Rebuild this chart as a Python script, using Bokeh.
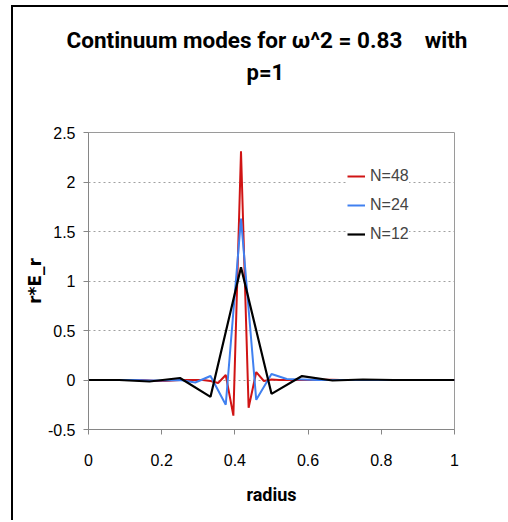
from bokeh.plotting import figure
from bokeh.models import FixedTicker, Title, Legend, LegendItem, Range1d
from bokeh.embed import file_html
from bokeh.resources import INLINE

# ---- data ----
r48 = [i / 48 for i in range(49)]
e48 = [0, 0, 0, 0, 0, 0, 0, 0, -0.005, -0.01, -0.01, -0.005, 0, 0, 0, 0,
       -0.01, -0.03, 0.05, -0.36, 2.31, -0.28, 0.08, -0.01, 0.005,
       0, 0, 0, 0, 0, 0.003, 0.003, 0.003, 0, 0, 0, 0, 0, 0, 0, 0, 0, 0, 0, 0, 0, 0, 0, 0]
r24 = [i / 24 for i in range(25)]
e24 = [0, 0, 0, 0, -0.005, -0.005, 0, -0.025, 0.04, -0.25, 1.63, -0.20, 0.06, 0.01,
       0.005, 0, 0, 0, 0, 0, 0, 0, 0, 0, 0]
r12 = [i / 12 for i in range(13)]
e12 = [0, 0, -0.015, 0.02, -0.17, 1.14, -0.14, 0.04, -0.005, 0.005, 0, 0, 0]

series_names = ["N=48", "N=24", "N=12"]
x_ticks = [0, 0.2, 0.4, 0.6, 0.8, 1]
x_tick_labels = ["0", "0.2", "0.4", "0.6", "0.8", "1"]
y_ticks = [-0.5, 0, 0.5, 1, 1.5, 2, 2.5]
y_tick_labels = ["-0.5", "0", "0.5", "1", "1.5", "2", "2.5"]
title_line1 = "Continuum modes for \u03c9^2 = 0.83\u00a0\u00a0\u00a0\u00a0with"
title_line2 = "p=1"

TICK_FONT = "Liberation Sans"
TITLE_FONT = "Roboto"

p = figure(width=508, height=520, output_backend="svg", toolbar_location=None,
           x_range=Range1d(0, 1), y_range=Range1d(-0.5, 2.5),
           min_border_left=88, min_border_right=54, min_border_top=132, min_border_bottom=91,
           title=None)
p.border_fill_color = None
p.background_fill_color = "white"
p.outline_line_color = "#9a9a9a"
p.outline_line_width = 1
p.styles = {"box-shadow": "inset 11px 0 0 0 white, inset 0 5px 0 0 white, "
                          "inset 13px 0 0 0 black, inset 0 7px 0 0 black"}

# titles (inner first): spacer, second line, first line
spacer = Title(text=" ", text_font_size="10px", standoff=33, text_color="white")
t2 = Title(text=title_line2, align="left", offset=158, text_font_size="22px",
           text_font_style="bold", text_font=TITLE_FONT, text_color="black", standoff=4)
t1 = Title(text=title_line1, align="left", offset=-22, text_font_size="22.5px",
           text_font_style="bold", text_font=TITLE_FONT, text_color="black", standoff=6)
p.add_layout(spacer, "above")
p.add_layout(t2, "above")
p.add_layout(t1, "above")

colors = ["#D01414", "#4080F0", "black"]
r_a = p.line(r48, e48, line_color=colors[0], line_width=2)
r_b = p.line(r24, e24, line_color=colors[1], line_width=2)
r_c = p.line(r12, e12, line_color=colors[2], line_width=2.2)

legend = Legend(items=[LegendItem(label=series_names[0], renderers=[r_a]),
                       LegendItem(label=series_names[1], renderers=[r_b]),
                       LegendItem(label=series_names[2], renderers=[r_c])],
                location=(259, 185), padding=2, margin=0, spacing=9,
                glyph_width=18, glyph_height=20, label_height=20, label_standoff=5,
                label_text_font=TICK_FONT, label_text_font_size="16px",
                border_line_color=None, background_fill_color="white", background_fill_alpha=1)
p.add_layout(legend, "center")

# axes
for ax in (p.xaxis[0], p.yaxis[0]):
    ax.axis_line_color = "#868686"
    ax.major_tick_line_color = "#868686"
    ax.major_tick_out = 5
    ax.major_tick_in = 0
    ax.minor_tick_line_color = None
    ax.major_label_text_font = TICK_FONT
    ax.major_label_text_font_size = "16px"
    ax.major_label_text_color = "black"
    ax.axis_label_text_font_style = "bold"
    ax.axis_label_text_color = "black"

p.xaxis.ticker = FixedTicker(ticks=x_ticks)
p.xaxis.major_label_overrides = {t: l for t, l in zip(x_ticks, x_tick_labels)}
p.xaxis.major_label_standoff = 19
p.xaxis.axis_label = "radius"
p.xaxis.axis_label_text_font = "Roboto"
p.xaxis.axis_label_text_font_size = "18px"
p.xaxis.axis_label_standoff = 15

p.yaxis.ticker = FixedTicker(ticks=y_ticks)
p.yaxis.major_label_overrides = {t: l for t, l in zip(y_ticks, y_tick_labels)}
p.yaxis.major_label_standoff = 8
p.yaxis.axis_label = "r*E_r"
p.yaxis.axis_label_text_font = "DejaVu Sans"
p.yaxis.axis_label_text_font_size = "17px"
p.yaxis.axis_label_standoff = 0

p.xgrid.grid_line_color = None
p.ygrid.ticker = FixedTicker(ticks=[0, 0.5, 1, 1.5, 2])
p.ygrid.grid_line_color = "#a0a0a0"
p.ygrid.grid_line_dash = "2 3"
p.ygrid.grid_line_width = 1

open("out.html", "w").write(file_html(p, INLINE))
